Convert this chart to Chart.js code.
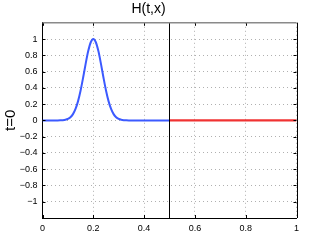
<!DOCTYPE html>
<html>
<head>
<meta charset="utf-8">
<script src="https://cdn.jsdelivr.net/npm/chart.js@4/dist/chart.umd.min.js"></script>
<style>
  html, body { margin: 0; padding: 0; background: #fff; }
  #wrap { width: 327px; height: 246px; }
</style>
</head>
<body>
<div id="wrap"><canvas id="chart"></canvas></div>
<script>
// values
const bumpX = [0, 0.05, 0.06, 0.07, 0.08, 0.09, 0.10, 0.11, 0.12, 0.13, 0.14, 0.15, 0.16, 0.17, 0.18, 0.19, 0.20,
               0.21, 0.22, 0.23, 0.24, 0.25, 0.26, 0.27, 0.28, 0.29, 0.30, 0.31, 0.32, 0.33, 0.34, 0.35, 0.5];
const bumpY = [0, 0, 0.0001, 0.0012, 0.0032, 0.0079, 0.018, 0.039, 0.077, 0.141, 0.237, 0.368, 0.527, 0.698, 0.852, 0.961, 1.0,
               0.961, 0.852, 0.698, 0.527, 0.368, 0.237, 0.141, 0.077, 0.039, 0.018, 0.0079, 0.0032, 0.0012, 0.0001, 0, 0];
const rightX = [0.5, 1];
const rightY = [0, 0];
const dividerX = [0.5, 0.5];
const dividerY = [-1.2, 1.2];
const xTicks = [0, 0.2, 0.4, 0.6, 0.8, 1];
const yTicks = [-1, -0.8, -0.6, -0.4, -0.2, 0, 0.2, 0.4, 0.6, 0.8, 1];

const pts = (xs, ys) => xs.map((x, i) => ({ x: x, y: ys[i] }));
const FONT = "'Liberation Sans', Arial, sans-serif";

// matlab style box + inward ticks
const boxPlugin = {
    id: 'box',
    afterDatasetsDraw(chart) {
        const { ctx, chartArea: a, scales } = chart;
        ctx.save();
        ctx.strokeStyle = '#000';
        ctx.lineWidth = 1;
        ctx.beginPath();
        xTicks.forEach(v => {
            const px = Math.round(scales.x.getPixelForValue(v)) + 0.5;
            ctx.moveTo(px, a.bottom); ctx.lineTo(px, a.bottom - 3);
            ctx.moveTo(px, a.top); ctx.lineTo(px, a.top + 3);
        });
        yTicks.forEach(v => {
            const py = Math.round(scales.y.getPixelForValue(v)) + 0.5;
            ctx.moveTo(a.left, py); ctx.lineTo(a.left + 3, py);
            ctx.moveTo(a.right, py); ctx.lineTo(a.right - 3, py);
        });
        ctx.stroke();
        ctx.beginPath();
        ctx.moveTo(Math.round(a.right) + 0.5, a.top);
        ctx.lineTo(Math.round(a.right) + 0.5, a.bottom);
        ctx.stroke();
        ctx.strokeStyle = '#8a8a8a';
        ctx.lineWidth = 1.5;
        ctx.beginPath();
        ctx.moveTo(a.left, a.top);
        ctx.lineTo(a.right, a.top);
        ctx.stroke();
        ctx.restore();
    }
};

new Chart(document.getElementById('chart'), {
    type: 'line',
    data: {
        datasets: [
            { data: pts(dividerX, dividerY), borderColor: '#000', borderWidth: 1, pointRadius: 0 },
            { data: pts(bumpX, bumpY), borderColor: 'rgb(60,90,255)', borderWidth: 2, pointRadius: 0, tension: 0.3, cubicInterpolationMode: 'monotone' },
            { data: pts(rightX, rightY), borderColor: 'rgb(240,50,50)', borderWidth: 2.2, pointRadius: 0 }
        ]
    },
    options: {
        responsive: true,
        maintainAspectRatio: false,
        animation: false,
        layout: { padding: { left: 0.5, right: 30.5, top: 0, bottom: 0 } },
        plugins: {
            legend: { display: false },
            tooltip: { enabled: false },
            title: {
                display: true,
                text: 'H(t,x)',
                color: '#000',
                font: { family: FONT, size: 14, weight: 'normal' },
                padding: { top: 1, bottom: 5 }
            }
        },
        scales: {
            x: {
                type: 'linear',
                min: 0, max: 1,
                afterFit: s => { s.height = 28; },
                afterBuildTicks: s => { s.ticks = xTicks.map(v => ({ value: v })); },
                ticks: { color: '#000', padding: 5, maxRotation: 0, font: { family: FONT, size: 9 },
                         callback: v => String(v) },
                grid: { color: '#b0b0b0', drawTicks: false },
                border: { color: '#000', dash: [1, 3] }
            },
            y: {
                type: 'linear',
                min: -1.2, max: 1.2,
                afterFit: s => { s.width = 42; },
                afterBuildTicks: s => { s.ticks = yTicks.map(v => ({ value: v })); },
                ticks: { color: '#000', padding: 5, font: { family: FONT, size: 9 },
                         callback: v => String(Math.round(v * 10) / 10).replace('-', '\u2212') },
                grid: { color: '#b0b0b0', drawTicks: false },
                border: { color: '#000', dash: [1, 3] },
                title: {
                    display: true,
                    text: 't=0',
                    color: '#000',
                    font: { family: FONT, size: 15 },
                    padding: { top: 1, bottom: 0 }
                }
            }
        }
    },
    plugins: [boxPlugin]
});
</script>
</body>
</html>
